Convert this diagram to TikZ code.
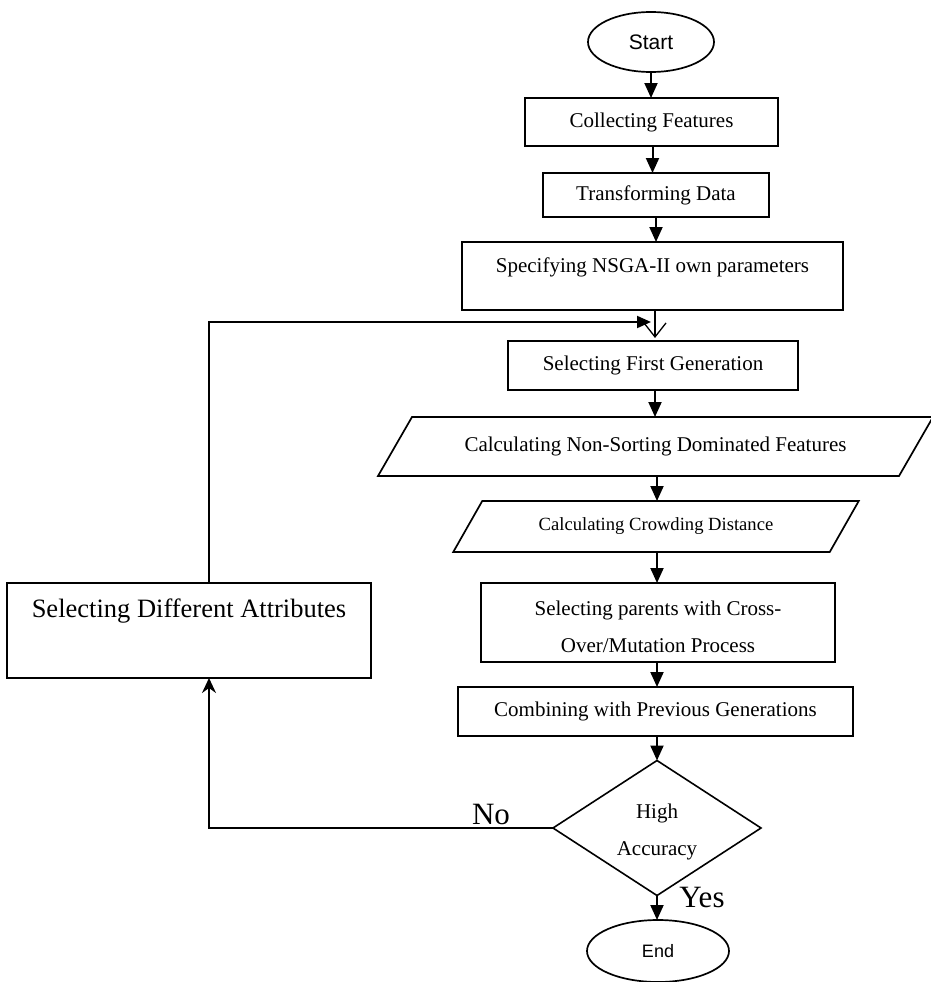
\documentclass[tikz,border=0pt]{standalone}
\usepackage{fontspec}
\setmainfont{Liberation Serif}
\newfontfamily\arialfont{Liberation Sans}
\usetikzlibrary{shapes.geometric,arrows.meta,calc}

\begin{document}
\begin{tikzpicture}[x=1pt,y=-1pt,
  every node/.style={inner sep=0pt,outer sep=0pt},
  txt/.style={font=\fontsize{21}{37}\selectfont,align=center},
  bigtxt/.style={font=\fontsize{31}{36}\selectfont},
  procbox/.style={draw,line width=1.8pt,rectangle},
  termbox/.style={draw,line width=1.7pt,ellipse,font=\arialfont\fontsize{21}{25}\selectfont},
  decbox/.style={draw,line width=1.6pt,diamond},
  iobox/.style={rectangle},
  ioline/.style={line width=1.7pt,line join=miter},
  flow/.style={line width=2pt,-{Triangle[length=15pt,width=13pt]}},
  feed/.style={line width=2pt,-{Triangle[length=14pt,width=12pt]}},
  openflow/.style={line width=2pt,-{Straight Barb[length=14pt,width=22pt,line width=1.3pt]}},
  backflow/.style={line width=1.8pt,-{Stealth[length=15pt,width=14pt,inset=5pt]}}]

\useasboundingbox (0,0) rectangle (930,982);

% terminals
\node[termbox,minimum width=126pt,minimum height=60pt] (start) at (651,42) {Start};
\node[termbox,minimum width=142pt,minimum height=62pt,font=\arialfont\fontsize{18}{22}\selectfont] (end) at (658,951) {End};

% process steps
\node[procbox,txt,minimum width=253pt,minimum height=48pt] (collect) at (651.5,122) {Collecting Features};
\node[procbox,txt,minimum width=226pt,minimum height=44pt] (transform) at (656,195) {Transforming Data};
\node[procbox,minimum width=381pt,minimum height=68pt] (spec) at (652.5,276) {};
\node[txt] (specText) at ([yshift=9pt]spec.center) {Specifying NSGA-II own parameters};
\node[procbox,txt,minimum width=290pt,minimum height=49pt] (first) at (653,365.5) {Selecting First Generation};

% input/output steps (parallelograms)
\node[iobox,txt,minimum width=521pt,minimum height=59pt] (sorting) at (655.5,446.5) {Calculating Non-Sorting Dominated Features};
\draw[ioline] ([xshift=-17pt]sorting.south west) -- ([xshift=17pt]sorting.north west)
  -- ([xshift=17pt]sorting.north east) -- ([xshift=-17pt]sorting.south east) -- cycle;
\node[iobox,txt,font=\fontsize{18.6}{22}\selectfont,minimum width=376.5pt,minimum height=51pt] (crowd) at (656,526.5) {Calculating Crowding Distance};
\draw[ioline] ([xshift=-14.5pt]crowd.south west) -- ([xshift=14.5pt]crowd.north west)
  -- ([xshift=14.5pt]crowd.north east) -- ([xshift=-14.5pt]crowd.south east) -- cycle;

\node[procbox,minimum width=354pt,minimum height=79pt] (parents) at (658,622.5) {};
\node[txt] (parentsText) at ([yshift=-4pt]parents.center) {Selecting parents with Cross-\\Over/Mutation Process};
\node[procbox,txt,minimum width=395pt,minimum height=49pt] (combine) at (655.5,711.5) {Combining with Previous Generations};

% decision
\node[decbox,minimum width=208pt,minimum height=135pt] (acc) at (657,828) {};
\node[txt] (accText) at ([yshift=-3.5pt]acc.center) {High\\Accuracy};

% side branch
\node[procbox,minimum width=364pt,minimum height=95pt] (attr) at (189,630.5) {};
\node[font=\fontsize{26.5}{30}\selectfont] (attrText) at ([yshift=19.5pt]attr.center) {Selecting Different Attributes};

% labels
\node[bigtxt] (no) at (491,814) {No};
\node[bigtxt] (yes) at (702,897) {Yes};

% main flow
\draw[flow] (start.south) -- (start.south |- collect.north);
\draw[flow] ([xshift=1pt]collect.south) -- ([xshift=1pt]collect.south |- transform.north);
\draw[flow] (transform.south) -- (transform.south |- spec.north);
\draw[openflow] ([xshift=2.5pt]spec.south) -- ([xshift=2.5pt,yshift=3pt]spec.south |- first.north);
\draw[flow] ([xshift=2pt]first.south) -- ([xshift=2pt]first.south |- sorting.north);
\draw[flow] ([xshift=1.5pt]sorting.south) -- ([xshift=1.5pt]sorting.south |- crowd.north);
\draw[flow] ([xshift=1pt]crowd.south) -- ([xshift=1pt]crowd.south |- parents.north);
\draw[flow] ([xshift=-1pt]parents.south) -- ([xshift=-1pt]parents.south |- combine.north);
\draw[flow] ([xshift=1.5pt]combine.south) -- ([xshift=1.5pt]combine.south |- acc.north);
\draw[flow] (acc.south) -- (acc.south |- end.north);

% feedback loop
\coordinate (loopTop) at (209,322);
\coordinate (loopBot) at (209,828);
\draw[feed] (attr.north -| loopTop) -- (loopTop) -- ([xshift=-2pt]loopTop -| first.north);
\draw[backflow] (acc.west) -- (loopBot) -- (attr.south -| loopBot);
\end{tikzpicture}
\end{document}
